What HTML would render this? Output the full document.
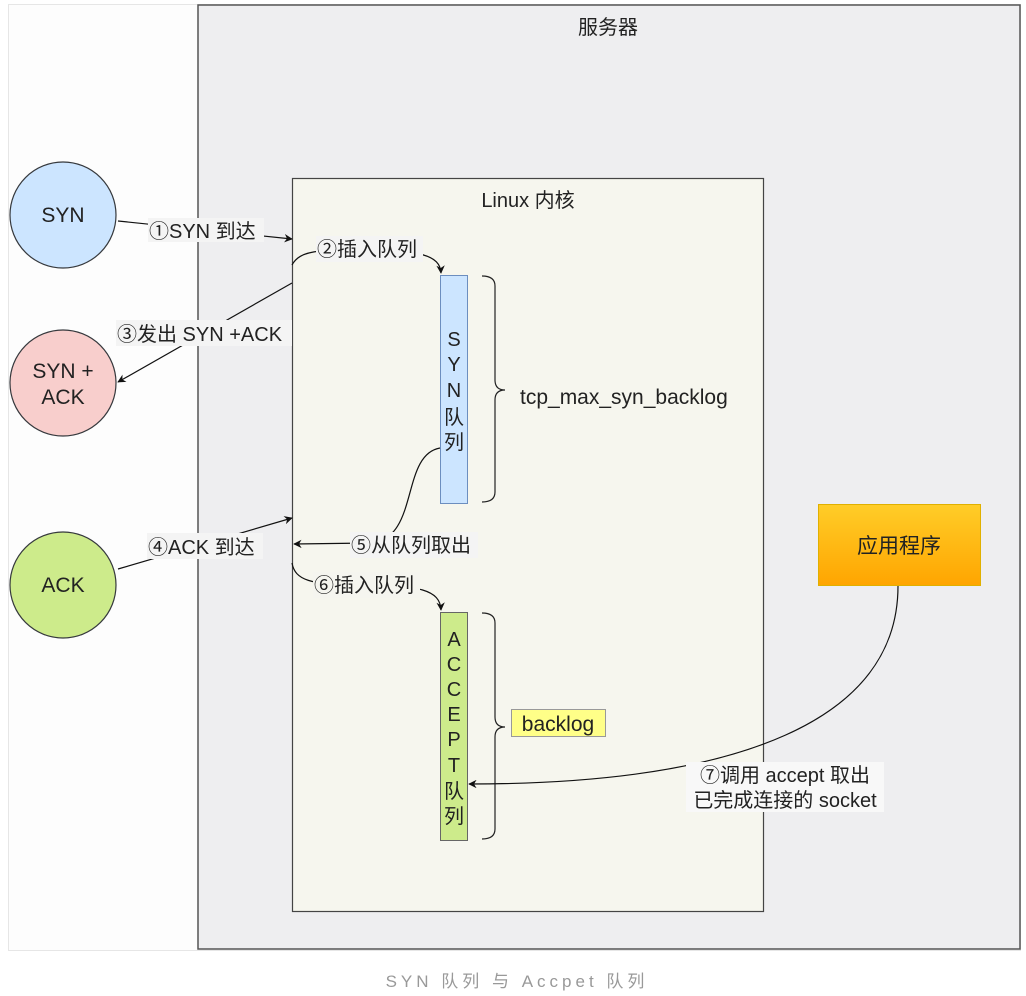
<!DOCTYPE html>
<html><head><meta charset="utf-8"><style>
html,body{margin:0;padding:0;background:#fff;width:1026px;height:996px;overflow:hidden}
svg{display:block}
text{font-family:"Liberation Sans","Noto Sans CJK SC",sans-serif;fill:#222}
</style></head><body>
<svg width="1026" height="996" viewBox="0 0 1026 996" xmlns="http://www.w3.org/2000/svg">
<defs>
<marker id="a" viewBox="0 0 10 10" refX="9" refY="5" markerWidth="7" markerHeight="7" orient="auto"><path d="M0,0 L10,5 L0,10 L3,5 z" fill="#111"/></marker>
<linearGradient id="g" x1="0" y1="0" x2="0" y2="1"><stop offset="0" stop-color="#ffcd28"/><stop offset="1" stop-color="#ffa500"/></linearGradient>
</defs>
<rect x="8.5" y="4.5" width="1012" height="946" fill="#fdfdfd" stroke="#e6e6e6"/>
<rect x="198" y="5" width="822" height="944" fill="#eeeef0" stroke="#555" stroke-width="1.5"/>
<text x="608" y="34" font-size="20" text-anchor="middle">服务器</text>
<rect x="292.5" y="178.5" width="471" height="733" fill="#f6f6ee" stroke="#444" stroke-width="1.2"/>
<text x="528" y="207" font-size="20" text-anchor="middle">Linux 内核</text>

<circle cx="63" cy="215" r="53" fill="#cce5ff" stroke="#36393d" stroke-width="1.2"/>
<text x="63" y="222" font-size="21" text-anchor="middle">SYN</text>
<circle cx="63" cy="383" r="53" fill="#f8cecc" stroke="#36393d" stroke-width="1.2"/>
<text x="63" y="378" font-size="21" text-anchor="middle">SYN +</text>
<text x="63" y="404" font-size="21" text-anchor="middle">ACK</text>
<circle cx="63" cy="585" r="53" fill="#cdeb8b" stroke="#36393d" stroke-width="1.2"/>
<text x="63" y="592" font-size="21" text-anchor="middle">ACK</text>

<rect x="440.5" y="275.5" width="27" height="228" fill="#cce5ff" stroke="#6c8ebf"/>
<g font-size="20" text-anchor="middle"><text x="454" y="346">S</text><text x="454" y="371">Y</text><text x="454" y="397">N</text><text x="454" y="424">队</text><text x="454" y="449">列</text></g>
<rect x="440.5" y="612.5" width="27" height="228" fill="#cdeb8b" stroke="#666"/>
<g font-size="20" text-anchor="middle"><text x="454" y="646">A</text><text x="454" y="671">C</text><text x="454" y="696">C</text><text x="454" y="721">E</text><text x="454" y="746">P</text><text x="454" y="772">T</text><text x="454" y="798">队</text><text x="454" y="823">列</text></g>

<path d="M482,276 Q495,276 495,286 L495,380 Q495,390 505,390 Q495,390 495,400 L495,492 Q495,502 482,502" fill="none" stroke="#222" stroke-width="1.2"/>
<text x="520" y="404" font-size="21">tcp_max_syn_backlog</text>
<path d="M482,613 Q495,613 495,623 L495,717 Q495,727 505,727 Q495,727 495,737 L495,829 Q495,839 482,839" fill="none" stroke="#222" stroke-width="1.2"/>
<rect x="511.5" y="709.5" width="94" height="27" fill="#ffff88" stroke="#999"/>
<text x="558" y="731" font-size="21" text-anchor="middle">backlog</text>

<rect x="818.5" y="504.5" width="162" height="81" fill="url(#g)" stroke="#e0b000"/>
<text x="899" y="553" font-size="21" text-anchor="middle">应用程序</text>

<g fill="none" stroke="#111" stroke-width="1.2">
<path d="M118,221 L292,239" marker-end="url(#a)"/>
<path d="M292,265 C300,250 320,250 360,250 C420,250 440,255 441,273" marker-end="url(#a)"/>
<path d="M292,283 L118,382" marker-end="url(#a)"/>
<path d="M118,569 L292,518" marker-end="url(#a)"/>
<path d="M440,448 C400,455 420,540 370,543 L294,544" marker-end="url(#a)"/>
<path d="M292,563 C295,580 310,585 360,585 C420,585 440,590 441,610" marker-end="url(#a)"/>
<path d="M898,586 C898,720 740,784 469,784" marker-end="url(#a)"/>
</g>

<g font-size="20">
<rect x="148" y="218" width="116" height="24" fill="#f4f4f4"/><text x="149" y="238">①SYN 到达</text>
<rect x="316" y="236" width="107" height="26" fill="#f4f4f4"/><text x="317" y="256">②插入队列</text>
<rect x="116" y="320" width="176" height="26" fill="#f4f4f4"/><text x="117" y="341">③发出 SYN +ACK</text>
<rect x="147" y="533" width="116" height="26" fill="#f4f4f4"/><text x="148" y="554">④ACK 到达</text>
<rect x="350" y="532" width="128" height="26" fill="#f4f4f4"/><text x="351" y="552">⑤从队列取出</text>
<rect x="313" y="572" width="107" height="26" fill="#f5f5ef"/><text x="314" y="592">⑥插入队列</text>
<rect x="686" y="762" width="198" height="50" fill="#f8f8f8"/>
<text x="785" y="782" text-anchor="middle">⑦调用 accept 取出</text>
<text x="785" y="807" text-anchor="middle">已完成连接的 socket</text>
</g>
<text x="517" y="987" font-size="17" text-anchor="middle" style="fill:#999;letter-spacing:4px">SYN 队列 与 Accpet 队列</text>
</svg>
</body></html>
